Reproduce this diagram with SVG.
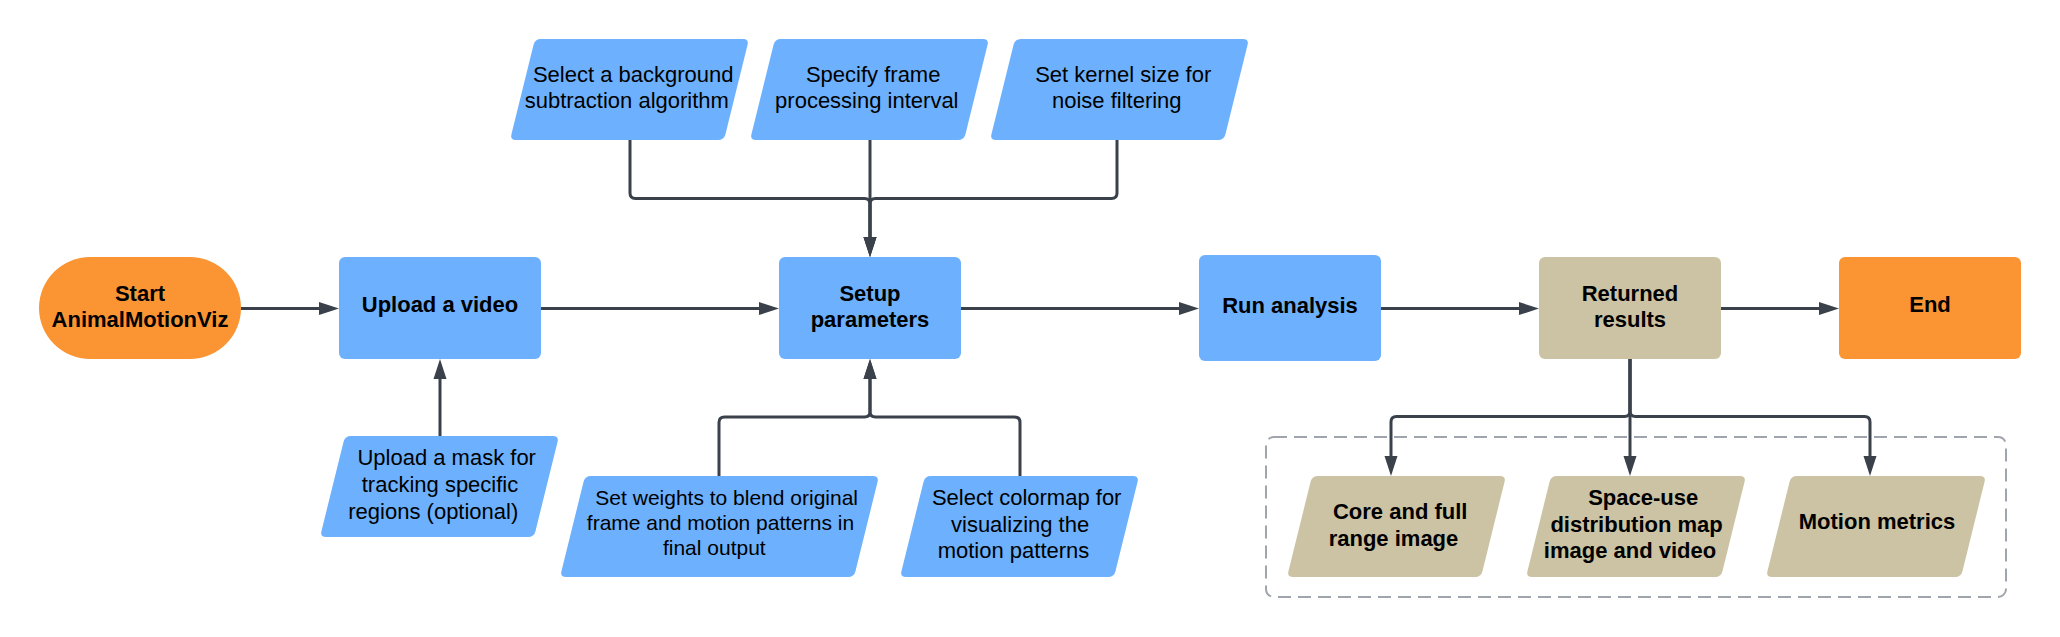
<svg xmlns="http://www.w3.org/2000/svg" width="2060" height="637" viewBox="0 0 2060 637">
<style>
  .blue{fill:#6CB0FE}
  .orange{fill:#FB9534}
  .tan{fill:#CBC3A3}
  text{font-family:"Liberation Sans",Arial,sans-serif;fill:#000;text-anchor:middle}
  .b{font-weight:bold;font-size:22px}
  .r{font-size:22px}
  .r21{font-size:21px}
  .con{fill:none;stroke:#3A414A;stroke-width:3}
  .dash{fill:none;stroke:#A0A4AD;stroke-width:2;stroke-dasharray:13 7}
</style>
<defs>
  <marker id="arr" markerUnits="userSpaceOnUse" markerWidth="20" markerHeight="14" refX="12" refY="6.5" orient="auto" viewBox="0 0 20 13">
    <path d="M0,0 L20,6.5 L0,13 Z" fill="#3A414A"/>
  </marker>
</defs>
<rect width="2060" height="637" fill="#FFFFFF"/>

<rect id="results-group" class="dash" x="1266" y="437" width="740" height="160" rx="8"/>

<g id="connectors">
  <path class="con" marker-end="url(#arr)" d="M241,308.5 H331"/>
  <path class="con" marker-end="url(#arr)" d="M541,308.5 H771"/>
  <path class="con" marker-end="url(#arr)" d="M961,308.5 H1191"/>
  <path class="con" marker-end="url(#arr)" d="M1381,308.5 H1531"/>
  <path class="con" marker-end="url(#arr)" d="M1721,308.5 H1831"/>
  <path class="con" marker-end="url(#arr)" d="M440,436 V367"/>
  <path class="con" marker-end="url(#arr)" d="M630,140 V193 Q630,198.5 635.5,198.5 H864.5 Q870,198.5 870,204 V249"/>
  <path class="con" marker-end="url(#arr)" d="M870,140 V249"/>
  <path class="con" marker-end="url(#arr)" d="M1117,140 V193 Q1117,198.5 1111.5,198.5 H875.5 Q870,198.5 870,204 V249"/>
  <path class="con" marker-end="url(#arr)" d="M719,476 V422.5 Q719,417 724.5,417 H864.5 Q870,417 870,411.5 V367"/>
  <path class="con" marker-end="url(#arr)" d="M1020,476 V422.5 Q1020,417 1014.5,417 H875.5 Q870,417 870,411.5 V367"/>
  <path class="con" marker-end="url(#arr)" d="M1630,359 V411 Q1630,416.5 1624.5,416.5 H1396.5 Q1391,416.5 1391,422 V468"/>
  <path class="con" marker-end="url(#arr)" d="M1630,359 V468"/>
  <path class="con" marker-end="url(#arr)" d="M1630,359 V411 Q1630,416.5 1635.5,416.5 H1864.5 Q1870,416.5 1870,422 V468"/>
</g>

<g id="start">
  <rect class="orange" x="39" y="257" width="202" height="102" rx="51"/>
  <text class="b" x="140" y="300.7">Start</text>
  <text class="b" x="140" y="326.7">AnimalMotionViz</text>
</g>

<g id="upload-video">
  <rect class="blue" x="339" y="257" width="202" height="102" rx="6"/>
  <text class="b" x="440" y="311.7">Upload a video</text>
</g>

<g id="upload-mask">
  <path class="blue" d="M351,436 h202 q6,0 4.56,5.83 l-22.12,89.34 q-1.44,5.83 -7.44,5.83 h-202 q-6,0 -4.56,-5.83 l22.12,-89.34 q1.44,-5.83 7.44,-5.83z"/>
  <text class="r" x="446.7" y="465">Upload a mask for</text>
  <text class="r" x="440" y="492">tracking specific</text>
  <text class="r" x="433.3" y="519">regions (optional)</text>
</g>

<g id="bg-algorithm">
  <path class="blue" d="M541,39 h202 q6,0 4.56,5.83 l-22.12,89.34 q-1.44,5.83 -7.44,5.83 h-202 q-6,0 -4.56,-5.83 l22.12,-89.34 q1.44,-5.83 7.44,-5.83z"/>
  <text class="r" x="633.2" y="82">Select a background</text>
  <text class="r" x="626.8" y="108">subtraction algorithm</text>
</g>

<g id="frame-interval">
  <path class="blue" d="M781,39 h202 q6,0 4.56,5.83 l-22.12,89.34 q-1.44,5.83 -7.44,5.83 h-202 q-6,0 -4.56,-5.83 l22.12,-89.34 q1.44,-5.83 7.44,-5.83z"/>
  <text class="r" x="873.2" y="82">Specify frame</text>
  <text class="r" x="866.8" y="108">processing interval</text>
</g>

<g id="kernel-size">
  <path class="blue" d="M1021,39 h222 q6,0 4.56,5.83 l-22.12,89.34 q-1.44,5.83 -7.44,5.83 h-222 q-6,0 -4.56,-5.83 l22.12,-89.34 q1.44,-5.83 7.44,-5.83z"/>
  <text class="r" x="1123.2" y="82">Set kernel size for</text>
  <text class="r" x="1116.8" y="108">noise filtering</text>
</g>

<g id="setup">
  <rect class="blue" x="779" y="257" width="182" height="102" rx="6"/>
  <text class="b" x="870" y="300.7">Setup</text>
  <text class="b" x="870" y="327">parameters</text>
</g>

<g id="weights">
  <path class="blue" d="M591,476 h282 q6,0 4.56,5.83 l-22.12,89.34 q-1.44,5.83 -7.44,5.83 h-282 q-6,0 -4.56,-5.83 l22.12,-89.34 q1.44,-5.83 7.44,-5.83z"/>
  <text class="r21" x="726.7" y="505">Set weights to blend original</text>
  <text class="r21" x="720.5" y="530">frame and motion patterns in</text>
  <text class="r21" x="714.3" y="555">final output</text>
</g>

<g id="colormap">
  <path class="blue" d="M931,476 h202 q6,0 4.56,5.83 l-22.12,89.34 q-1.44,5.83 -7.44,5.83 h-202 q-6,0 -4.56,-5.83 l22.12,-89.34 q1.44,-5.83 7.44,-5.83z"/>
  <text class="r" x="1026.7" y="505">Select colormap for</text>
  <text class="r" x="1020.1" y="531.5">visualizing the</text>
  <text class="r" x="1013.5" y="558">motion patterns</text>
</g>

<g id="run-analysis">
  <rect class="blue" x="1199" y="255" width="182" height="106" rx="6"/>
  <text class="b" x="1290" y="313.3">Run analysis</text>
</g>

<g id="returned-results">
  <rect class="tan" x="1539" y="257" width="182" height="102" rx="6"/>
  <text class="b" x="1630" y="300.7">Returned</text>
  <text class="b" x="1630" y="327">results</text>
</g>

<g id="end">
  <rect class="orange" x="1839" y="257" width="182" height="102" rx="6"/>
  <text class="b" x="1930" y="311.5">End</text>
</g>

<g id="core-range">
  <path class="tan" d="M1318,476 h182 q6,0 4.56,5.83 l-22.12,89.34 q-1.44,5.83 -7.44,5.83 h-182 q-6,0 -4.56,-5.83 l22.12,-89.34 q1.44,-5.83 7.44,-5.83z"/>
  <text class="b" x="1400.2" y="519">Core and full</text>
  <text class="b" x="1393.5" y="546">range image</text>
</g>

<g id="space-use">
  <path class="tan" d="M1557,476 h183 q6,0 4.56,5.83 l-22.12,89.34 q-1.44,5.83 -7.44,5.83 h-183 q-6,0 -4.56,-5.83 l22.12,-89.34 q1.44,-5.83 7.44,-5.83z"/>
  <text class="b" x="1643.2" y="505">Space-use</text>
  <text class="b" x="1636.6" y="531.5">distribution map</text>
  <text class="b" x="1630" y="558">image and video</text>
</g>

<g id="motion-metrics">
  <path class="tan" d="M1797,476 h183 q6,0 4.56,5.83 l-22.12,89.34 q-1.44,5.83 -7.44,5.83 h-183 q-6,0 -4.56,-5.83 l22.12,-89.34 q1.44,-5.83 7.44,-5.83z"/>
  <text class="b" x="1877" y="529">Motion metrics</text>
</g>
</svg>
